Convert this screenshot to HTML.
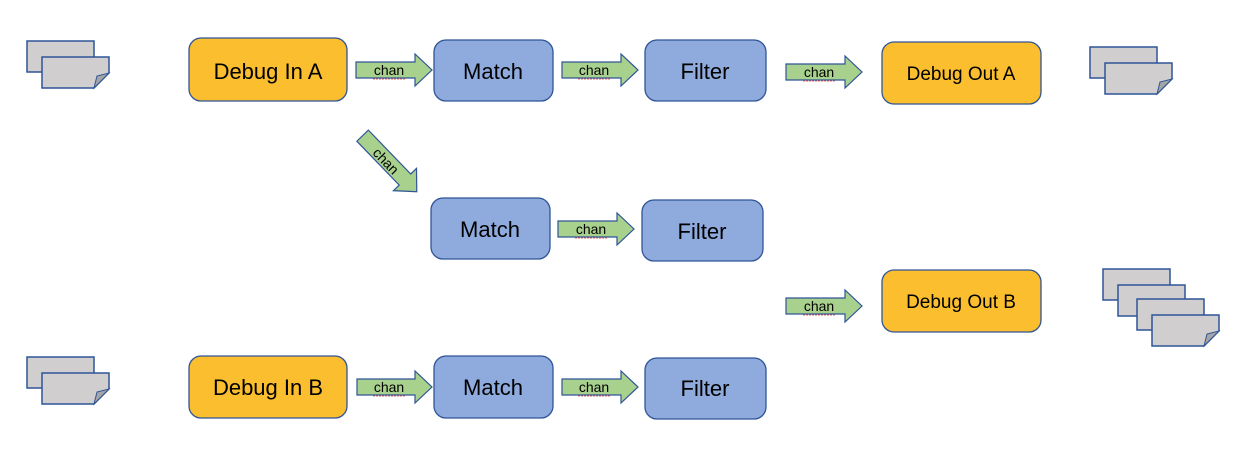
<!DOCTYPE html>
<html><head><meta charset="utf-8"><style>
html,body{margin:0;padding:0;background:#fff;}
svg{display:block;}
text{font-family:"Liberation Sans",sans-serif;}
</style></head><body>
<svg width="1250" height="451" viewBox="0 0 1250 451" xmlns="http://www.w3.org/2000/svg">
<defs>
<g id="doc">
<rect x="0" y="0" width="67" height="31" fill="#d0cece" stroke="#2f5597" stroke-width="1.5"/>
</g>
<g id="docf">
<path d="M0 0 H67 V16 L52 31 H0 Z" fill="#d0cece" stroke="#2f5597" stroke-width="1.5"/>
<path d="M52 31 L55 19 L67 16 Z" fill="#a5a5a5" stroke="#2f5597" stroke-width="1"/>
</g>
</defs>
<use href="#doc" x="27" y="41"/><use href="#docf" x="42" y="57"/>
<use href="#doc" x="1090" y="47"/><use href="#docf" x="1105" y="63"/>
<use href="#doc" x="27" y="357"/><use href="#docf" x="42" y="373"/>
<use href="#doc" x="1103" y="269"/><use href="#doc" x="1118" y="285"/><use href="#doc" x="1137" y="299"/><use href="#docf" x="1152" y="315"/>

<g stroke="#2f5597" stroke-width="1.3">
<rect x="189" y="38" width="158" height="63" rx="12" fill="#fbbe2e"/>
<rect x="434" y="40" width="119" height="61" rx="12" fill="#8faadc"/>
<rect x="645" y="40" width="121" height="61" rx="12" fill="#8faadc"/>
<rect x="882" y="42" width="159" height="62" rx="12" fill="#fbbe2e"/>
<rect x="431" y="198" width="119" height="61" rx="12" fill="#8faadc"/>
<rect x="642" y="200" width="121" height="61" rx="12" fill="#8faadc"/>
<rect x="882" y="270" width="159" height="62" rx="12" fill="#fbbe2e"/>
<rect x="189" y="356" width="158" height="62" rx="12" fill="#fbbe2e"/>
<rect x="434" y="356" width="119" height="62" rx="12" fill="#8faadc"/>
<rect x="645" y="358" width="121" height="61" rx="12" fill="#8faadc"/>
</g>
<g font-size="22" text-anchor="middle" fill="#000">
<text x="268" y="79">Debug In A</text>
<text x="493" y="79">Match</text>
<text x="705" y="79">Filter</text>
<text x="961" y="80" font-size="19">Debug Out A</text>
<text x="490" y="237">Match</text>
<text x="702" y="239">Filter</text>
<text x="961" y="308" font-size="19">Debug Out B</text>
<text x="268" y="395">Debug In B</text>
<text x="493" y="395">Match</text>
<text x="705" y="396">Filter</text>
</g>
<g fill="#a9d18e" stroke="#2f5597" stroke-width="1.2">
<path d="M356 62 H415 V54 L432 70 L415 86 V78 H356 Z"/>
<path d="M562 62 H621 V54 L638 70 L621 86 V78 H562 Z"/>
<path d="M786 64 H845 V56 L862 72 L845 88 V80 H786 Z"/>
<path d="M558 221 H617 V213 L634 229 L617 245 V237 H558 Z"/>
<path d="M786 298 H845 V290 L862 306 L845 322 V314 H786 Z"/>
<path d="M357 379 H415 V371 L432 387 L415 403 V395 H357 Z"/>
<path d="M562 379 H621 V371 L638 387 L621 403 V395 H562 Z"/>
<path transform="rotate(46 389 163)" d="M351 155 H412 V147 L429 163 L412 179 V171 H351 Z"/>
</g>
<g font-size="14" text-anchor="middle" fill="#000">
<text x="389" y="75">chan</text>
<text x="594" y="75">chan</text>
<text x="819" y="77">chan</text>
<text x="591" y="234">chan</text>
<text x="819" y="311">chan</text>
<text x="389" y="392">chan</text>
<text x="594" y="392">chan</text>
<text transform="rotate(46 386 161)" x="386" y="166">chan</text>
</g>
<g stroke="#e03030" stroke-width="0.8" fill="none" stroke-dasharray="2 1">
<path d="M373 79 H405"/><path d="M578 79 H610"/><path d="M803 81 H835"/>
<path d="M575 238 H607"/><path d="M803 315 H835"/><path d="M373 396 H405"/><path d="M578 396 H610"/>
</g>
</svg>
</body></html>
